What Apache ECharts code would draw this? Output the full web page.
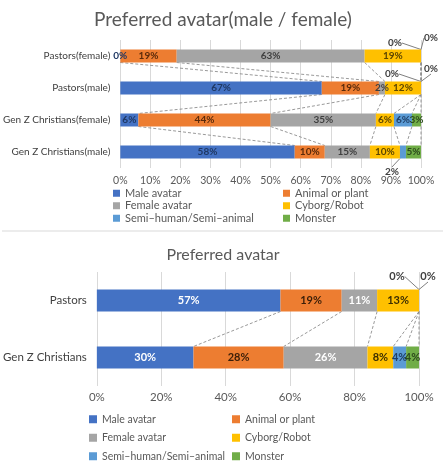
<!DOCTYPE html>
<html>
<head>
<meta charset="utf-8">
<script src="https://cdn.jsdelivr.net/npm/echarts@6/dist/echarts.min.js"></script>
<style>
html,body{margin:0;padding:0;background:#fff;}
#c{width:446px;height:467px;}
</style>
</head>
<body>
<div id="c"></div>
<script>
// ---------- DATA ----------
const seriesNames = ['Male avatar', 'Animal or plant', 'Female avatar', 'Cyborg/Robot', 'Semi–human/Semi–animal', 'Monster'];

// Top chart (male / female split), categories top to bottom
const topTitle = 'Preferred avatar(male / female)';
const topCategories = ['Pastors(female)', 'Pastors(male)', 'Gen Z Christians(female)', 'Gen Z Christians(male)'];
const topMale    = [0, 67, 6, 58];
const topAnimal  = [18.75, 19, 44, 10];
const topFemale  = [62.5, 2, 35, 15];
const topCyborg  = [18.75, 12, 6, 10];
const topSemi    = [0, 0, 6, 2];
const topMonster = [0, 0, 3, 5];
const topTicks = [0, 10, 20, 30, 40, 50, 60, 70, 80, 90, 100];

// Bottom chart (combined)
const botTitle = 'Preferred avatar';
const botCategories = ['Pastors', 'Gen Z Christians'];
const botMale    = [57, 30];
const botAnimal  = [19, 28];
const botFemale  = [11, 26];
const botCyborg  = [13, 8];
const botSemi    = [0, 4];
const botMonster = [0, 4];
const botTicks = [0, 20, 40, 60, 80, 100];

// legend columns
const legendColA = [seriesNames[0], seriesNames[2], seriesNames[4]];
const legendColB = [seriesNames[1], seriesNames[3], seriesNames[5]];

// ---------- STYLE ----------
const colors = ['#4472C4', '#ED7D31', '#A5A5A5', '#FFC000', '#5B9BD5', '#70AD47'];
const topLabelColors = ['#1f3864', '#5a2a0a', '#3f3f3f', '#5c4500', '#1f3f66', '#2c4a1c'];
const botLabelColors = ['#ffffff', '#3b1e08', '#ffffff', '#3d2e00', '#1f3f66', '#2c4a1c'];
const FONT = 'Lato';

// label moves for tiny segments (seriesIdx -> dataIdx -> [dx, dy])
const topMoves = { 4: { 0: [-26, -13], 1: [-29, -14], 3: [-11, 20] }, 5: { 0: [10, -18], 1: [10, -19] } };
const botMoves = { 4: { 0: [-22, -24] }, 5: { 0: [9, -24] } };

const topArrays = [topMale, topAnimal, topFemale, topCyborg, topSemi, topMonster];
const botArrays = [botMale, botAnimal, botFemale, botCyborg, botSemi, botMonster];

function makeBars(arrays, idx, stack, barW, labelColors, fontSize, moves) {
  return arrays.map((arr, k) => ({
    name: seriesNames[k],
    type: 'bar',
    stack: stack,
    xAxisIndex: idx,
    yAxisIndex: idx,
    barWidth: barW,
    itemStyle: { color: colors[k] },
    data: arr.map((v, i) => {
      const moved = !!(moves[k] && moves[k][i]);
      return {
        value: v,
        label: moved ? { color: '#404040' } : {},
        labelLine: { show: moved, lineStyle: { color: '#7f7f7f', width: 1 } }
      };
    }),
    label: {
      show: true,
      position: 'inside',
      formatter: p => Math.round(p.value) + '%',
      color: labelColors[k],
      fontFamily: FONT,
      fontSize: fontSize,
      fontWeight: 'bold'
    },
    labelLine: { show: !!moves[k], length2: 0, lineStyle: { color: '#7f7f7f', width: 1 } },
    labelLayout: function (p) {
      const m = moves[k] && moves[k][p.dataIndex];
      return m ? { dx: m[0], dy: m[1] } : {};
    }
  }));
}

function seriesLineData(arrays, n) {
  const out = [];
  for (let i = 0; i < n - 1; i++) {
    let ca = 0, cb = 0;
    for (let k = 0; k < arrays.length; k++) {
      ca += arrays[k][i];
      cb += arrays[k][i + 1];
      out.push([i, i + 1, ca, cb]);
    }
  }
  return out;
}

function makeSeriesLines(arrays, n, idx, barW) {
  return {
    type: 'custom',
    xAxisIndex: idx,
    yAxisIndex: idx,
    silent: true,
    z: 1,
    encode: { x: [2, 3], y: [0, 1] },
    data: seriesLineData(arrays, n),
    renderItem: function (params, api) {
      const a = api.coord([api.value(2), api.value(0)]);
      const b = api.coord([api.value(3), api.value(1)]);
      const h = barW / 2;
      return {
        type: 'line',
        shape: { x1: a[0], y1: a[1] + h, x2: b[0], y2: b[1] - h },
        style: { stroke: '#7f7f7f', lineWidth: 0.8, lineDash: [3, 2] }
      };
    }
  };
}

function legendCol(data, left, top, iconSize, fontSize, lh) {
  return {
    data: data, left: left, top: top, orient: 'vertical', padding: 0,
    itemWidth: iconSize, itemHeight: iconSize, itemGap: 0, icon: 'rect',
    textStyle: { fontFamily: FONT, fontSize: fontSize, color: '#595959', lineHeight: lh }
  };
}

const chart = echarts.init(document.getElementById('c'), null, { renderer: 'canvas' });

const option = {
  backgroundColor: '#fff',
  animation: false,
  textStyle: { fontFamily: FONT },
  title: [
    { text: topTitle, left: 'center', top: 5, textStyle: { fontFamily: FONT, fontSize: 19, fontWeight: 'normal', color: '#595959' } },
    { text: botTitle, left: 'center', top: 242, textStyle: { fontFamily: FONT, fontSize: 16, fontWeight: 'normal', color: '#595959' } }
  ],
  legend: [
    legendCol(legendColA, 113, 187, 7, 11, 12.5),
    legendCol(legendColB, 283, 187, 7, 11, 12.5),
    legendCol(legendColA, 89, 410, 8, 10.5, 18.5),
    legendCol(legendColB, 232, 410, 8, 10.5, 18.5)
  ],
  grid: [
    { left: 114, right: 25, top: 40, height: 128 },
    { left: 89, right: 27, top: 272, height: 114 }
  ],
  xAxis: [
    {
      gridIndex: 0, type: 'value', min: topTicks[0], max: topTicks[topTicks.length - 1], interval: topTicks[1] - topTicks[0],
      axisLine: { show: false }, axisTick: { show: false },
      splitLine: { lineStyle: { color: '#d9d9d9' } },
      axisLabel: { formatter: '{value}%', color: '#595959', fontSize: 10.5, fontFamily: FONT, margin: 7 }
    },
    {
      gridIndex: 1, type: 'value', min: botTicks[0], max: botTicks[botTicks.length - 1], interval: botTicks[1] - botTicks[0],
      axisLine: { show: false }, axisTick: { show: false },
      splitLine: { lineStyle: { color: '#d9d9d9' } },
      axisLabel: { formatter: '{value}%', color: '#595959', fontSize: 11.5, fontFamily: FONT, margin: 5 }
    }
  ],
  yAxis: [
    {
      gridIndex: 0, type: 'category', inverse: true, data: topCategories,
      axisLine: { show: false }, axisTick: { show: false }, splitLine: { show: false },
      axisLabel: { color: '#404040', fontSize: 10, fontFamily: FONT, margin: 10 }
    },
    {
      gridIndex: 1, type: 'category', inverse: true, data: botCategories,
      axisLine: { show: false }, axisTick: { show: false }, splitLine: { show: false },
      axisLabel: { color: '#404040', fontSize: 11.5, fontFamily: FONT, margin: 10 }
    }
  ],
  graphic: [
    { type: 'line', shape: { x1: 2, y1: 231, x2: 443, y2: 231 }, style: { stroke: '#d9d9d9', lineWidth: 1 } }
  ],
  series: [].concat(
    makeBars(topArrays, 0, 'top', 13, topLabelColors, 10, topMoves),
    makeBars(botArrays, 1, 'bot', 22, botLabelColors, 11, botMoves),
    [makeSeriesLines(topArrays, topCategories.length, 0, 13),
     makeSeriesLines(botArrays, botCategories.length, 1, 22)]
  )
};
chart.setOption(option);
</script>
</body>
</html>
